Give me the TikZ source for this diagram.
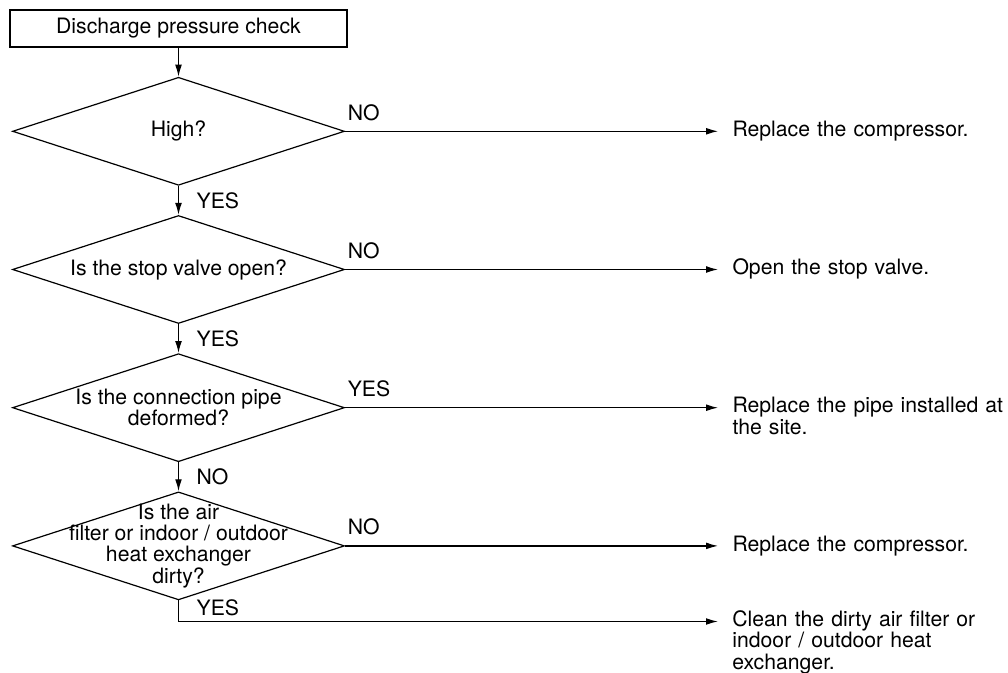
\documentclass[tikz,border=0pt]{standalone}
\usepackage{fontspec}
\setmainfont{TeX Gyre Heros}
\usetikzlibrary{positioning,shapes.geometric,arrows.meta}

\begin{document}
\begin{tikzpicture}[
      every node/.style={font=\fontsize{10.6}{10.6}\selectfont},
      startbox/.style={
        draw, line width=0.7pt,
        minimum width=168.5pt, minimum height=18.5pt,
        inner sep=0pt
      },
      decision/.style={
        diamond, draw, line width=0.6pt,
        minimum width=166pt, minimum height=54pt,
        inner sep=0pt
      },
      question/.style={align=center, inner sep=0pt},
      outcome/.style={
        text width=140pt, align=left,
        inner xsep=7pt, inner ysep=0pt,
        anchor=mid west
      },
      flow/.style={line width=0.65pt, -{Latex[length=6pt,width=3.4pt]}},
      sidelab/.style={inner sep=0pt, anchor=base west, xshift=1pt, yshift=5.5pt},
      downlab/.style={inner sep=0pt, anchor=west, xshift=8.75pt}
    ]
      \useasboundingbox (0,0) rectangle (504pt,-336.5pt);
      \node[startbox] (start) at (89.25pt,-14.25pt) {Discharge pressure check};
      \node[decision, below=14.5pt of start] (d1) {};
      \node[decision, below=14.5pt of d1] (d2) {};
      \node[decision, below=14.5pt of d2] (d3) {};
      \node[decision, below=14.5pt of d3] (d4) {};
      \node[question] (q1) at (d1) {High?};
      \node[question] (q2) at (d2) {Is the stop valve open?};
      \node[question] (q3) at (d3) {Is the connection pipe\\deformed?};
      \node[question] (q4) at (d4) {Is the air\\filter or indoor / outdoor\\heat exchanger\\dirty?};
      \node[right=186.5pt of d1.east, outcome] (r1) {Replace the compressor.};
      \node[right=186.5pt of d2.east, outcome] (r2) {Open the stop valve.};
      \node[right=186.5pt of d3.east, outcome] (r3) {Replace the pipe installed at\\the site.};
      \node[right=186.5pt of d4.east, outcome] (r4) {Replace the compressor.};
      \node[below right=10.5pt and 269.75pt of d4.south, outcome] (r5) {
        Clean the dirty air filter or\\
        indoor / outdoor heat\\
        exchanger.
      };
      \draw[flow] (start) -- (d1);
      \draw[flow] (d1) -- node[downlab] {YES} (d2);
      \draw[flow] (d2) -- node[downlab] {YES} (d3);
      \draw[flow] (d3) -- node[downlab] {NO} (d4);
      \draw[flow] (d1.east) -- node[sidelab, pos=0] {NO} (r1.mid west);
      \draw[flow] (d2.east) -- node[sidelab, pos=0] {NO} (r2.mid west);
      \draw[flow] (d3.east) -- node[sidelab, pos=0] {YES} (r3.mid west);
      \draw[flow] (d4.east) -- node[sidelab, pos=0] {NO} (r4.mid west);
      \draw[flow] (d4.south) |- node[downlab, pos=0.25, yshift=1.5pt] {YES} (r5.mid west);
    \end{tikzpicture}
\end{document}
